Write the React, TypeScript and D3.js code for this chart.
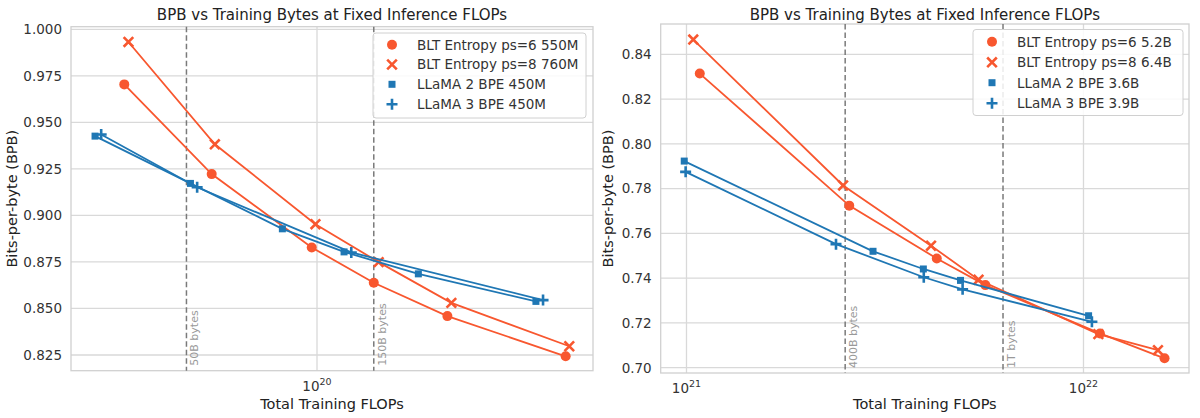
import { useEffect, useRef } from 'react'
import * as d3 from 'd3'

// ---- left panel (smaller models) ----
const leftBlt6Flops = [3.27e19, 5.43e19, 9.7e19, 1.39e20, 2.13e20, 4.23e20]
const leftBlt6Bpb = [0.9704, 0.9222, 0.8828, 0.8638, 0.8459, 0.8243]
const leftBlt8Flops = [3.35e19, 5.53e19, 9.91e19, 1.43e20, 2.18e20, 4.32e20]
const leftBlt8Bpb = [0.9932, 0.9382, 0.8953, 0.8749, 0.853, 0.8297]
const leftLlama2Flops = [2.76e19, 4.8e19, 8.18e19, 1.17e20, 1.8e20, 3.56e20]
const leftLlama2Bpb = [0.9426, 0.9172, 0.8928, 0.8804, 0.8686, 0.8538]
const leftLlama3Flops = [2.86e19, 4.99e19, 1.22e20, 3.71e20]
const leftLlama3Bpb = [0.9435, 0.9151, 0.8801, 0.8545]
const leftYTicks = [0.825, 0.85, 0.875, 0.9, 0.925, 0.95, 0.975, 1.0]
const leftXTicks = [1e20]
const leftBytesFlops = [4.69e19, 1.39e20]
const leftBytesLabels = ['50B bytes', '150B bytes']
const leftLegend = ['BLT Entropy ps=6 550M', 'BLT Entropy ps=8 760M', 'LLaMA 2 BPE 450M', 'LLaMA 3 BPE 450M']

// ---- right panel (larger models) ----
const rightBlt6Flops = [1.08e21, 2.57e21, 4.27e21, 5.66e21, 1.1e22, 1.6e22]
const rightBlt6Bpb = [0.8314, 0.7724, 0.7488, 0.7369, 0.7153, 0.7042]
const rightBlt8Flops = [1.04e21, 2.48e21, 4.13e21, 5.44e21, 1.09e22, 1.54e22]
const rightBlt8Bpb = [0.8466, 0.7814, 0.7545, 0.7393, 0.715, 0.7078]
const rightLlama2Flops = [9.87e20, 2.95e21, 3.95e21, 4.9e21, 1.03e22]
const rightLlama2Bpb = [0.7923, 0.752, 0.7441, 0.739, 0.7232]
const rightLlama3Flops = [9.95e20, 2.38e21, 3.96e21, 4.96e21, 1.05e22]
const rightLlama3Bpb = [0.7875, 0.7552, 0.7404, 0.735, 0.7205]
const rightYTicks = [0.7, 0.72, 0.74, 0.76, 0.78, 0.8, 0.82, 0.84]
const rightXTicks = [1e21, 1e22]
const rightBytesFlops = [2.51e21, 6.27e21]
const rightBytesLabels = ['400B bytes', '1T bytes']
const rightLegend = ['BLT Entropy ps=6 5.2B', 'BLT Entropy ps=8 6.4B', 'LLaMA 2 BPE 3.6B', 'LLaMA 3 BPE 3.9B']

const ORANGE = '#f8572f'
const BLUE = '#1f77b4'
const FONT = 'DejaVu Sans, sans-serif'
const markers = ['circle', 'x', 'square', 'plus']
const colors = [ORANGE, ORANGE, BLUE, BLUE]

interface PanelCfg {
  frame: { x0: number; x1: number; y0: number; y1: number }
  xRef: [number, number] // decade value at px
  yMap: [number, number, number, number] // v0, px0, v1, px1
  series: Array<{ x: number[]; y: number[] }>
  yTicks: number[]
  yFmt: (v: number) => string
  xTicks: number[]
  bytes: number[]
  bytesLabels: string[]
  legend: string[]
  legendBox: { x: number; y: number; w: number; h: number }
  legendRows: number[]
  yLabelX: number
}

function drawMarker(g: any, type: string, x: number, y: number, color: string) {
  if (type === 'circle') {
    g.append('circle').attr('cx', x).attr('cy', y).attr('r', 5).attr('fill', color)
  } else if (type === 'square') {
    g.append('rect').attr('x', x - 3.5).attr('y', y - 3.5).attr('width', 7).attr('height', 7).attr('fill', color)
  } else if (type === 'x') {
    const s = 4.8
    g.append('path')
      .attr('d', `M${x - s},${y - s}L${x + s},${y + s}M${x - s},${y + s}L${x + s},${y - s}`)
      .attr('stroke', color).attr('stroke-width', 2.6).attr('fill', 'none')
  } else {
    const s = 5.5
    g.append('path')
      .attr('d', `M${x - s},${y}L${x + s},${y}M${x},${y - s}L${x},${y + s}`)
      .attr('stroke', color).attr('stroke-width', 2.6).attr('fill', 'none')
  }
}

function drawPanel(svg: any, cfg: PanelCfg) {
  const { frame } = cfg
  const decade = 397
  const x = d3.scaleLog()
    .domain([cfg.xRef[0] / 10, cfg.xRef[0]])
    .range([cfg.xRef[1] - decade, cfg.xRef[1]])
  const y = d3.scaleLinear()
    .domain([cfg.yMap[0], cfg.yMap[2]])
    .range([cfg.yMap[1], cfg.yMap[3]])

  const g = svg.append('g')

  // grid
  cfg.yTicks.forEach(t => {
    g.append('line')
      .attr('x1', frame.x0).attr('x2', frame.x1)
      .attr('y1', y(t)).attr('y2', y(t))
      .attr('stroke', '#d9d9d9').attr('stroke-width', 1.3)
    g.append('text')
      .attr('x', frame.x0 - 9).attr('y', y(t) + 4.8)
      .attr('text-anchor', 'end')
      .style('font-family', FONT).style('font-size', '13.5px').style('fill', '#333')
      .text(cfg.yFmt(t))
  })
  cfg.xTicks.forEach(t => {
    g.append('line')
      .attr('x1', x(t)).attr('x2', x(t))
      .attr('y1', frame.y0).attr('y2', frame.y1)
      .attr('stroke', '#d9d9d9').attr('stroke-width', 1.3)
    const exp = Math.round(Math.log10(t))
    const txt = g.append('text')
      .attr('x', x(t)).attr('y', frame.y1 + 20)
      .attr('text-anchor', 'middle')
      .style('font-family', FONT).style('font-size', '13.5px').style('fill', '#333')
    txt.append('tspan').text('10')
    txt.append('tspan').attr('dy', -6).style('font-size', '9.5px').text(String(exp))
  })

  // frame
  g.append('rect')
    .attr('x', frame.x0).attr('y', frame.y0)
    .attr('width', frame.x1 - frame.x0).attr('height', frame.y1 - frame.y0)
    .attr('fill', 'none').attr('stroke', '#d0d0d0').attr('stroke-width', 1.3)

  // training bytes markers
  cfg.bytes.forEach((b, i) => {
    g.append('line')
      .attr('x1', x(b)).attr('x2', x(b))
      .attr('y1', frame.y0).attr('y2', frame.y1)
      .attr('stroke', '#7a7a7a').attr('stroke-width', 1.5)
      .attr('stroke-dasharray', '5.5,3')
    g.append('text')
      .attr('transform', `translate(${x(b) + 12},${frame.y1 - 5}) rotate(-90)`)
      .style('font-family', FONT).style('font-size', '11px').style('fill', '#999')
      .text(cfg.bytesLabels[i])
  })

  // series
  const line = d3.line<[number, number]>().x(d => x(d[0])).y(d => y(d[1]))
  cfg.series.forEach((s, si) => {
    const pts = s.x.map((v, i) => [v, s.y[i]] as [number, number])
    g.append('path')
      .attr('d', line(pts))
      .attr('fill', 'none').attr('stroke', colors[si]).attr('stroke-width', 1.8)
    pts.forEach(p => drawMarker(g, markers[si], x(p[0]), y(p[1]), colors[si]))
  })

  // legend
  const lb = cfg.legendBox
  g.append('rect')
    .attr('x', lb.x).attr('y', lb.y).attr('width', lb.w).attr('height', lb.h)
    .attr('rx', 3).attr('fill', 'white').attr('fill-opacity', 0.85)
    .attr('stroke', '#d0d0d0').attr('stroke-width', 1)
  cfg.legend.forEach((label, i) => {
    const ry = cfg.legendRows[i]
    drawMarker(g, markers[i], lb.x + 19, ry, colors[i])
    g.append('text')
      .attr('x', lb.x + 44).attr('y', ry + 4.8)
      .style('font-family', FONT).style('font-size', '13.5px').style('fill', '#333')
      .text(label)
  })

  // titles
  const cx = (frame.x0 + frame.x1) / 2
  g.append('text')
    .attr('x', cx).attr('y', 19.5).attr('text-anchor', 'middle')
    .style('font-family', FONT).style('font-size', '15px').style('fill', '#222')
    .text('BPB vs Training Bytes at Fixed Inference FLOPs')
  g.append('text')
    .attr('x', cx).attr('y', 409).attr('text-anchor', 'middle')
    .style('font-family', FONT).style('font-size', '14.5px').style('fill', '#222')
    .text('Total Training FLOPs')
  const cy = (frame.y0 + frame.y1) / 2
  g.append('text')
    .attr('transform', `translate(${cfg.yLabelX},${cy}) rotate(-90)`)
    .attr('text-anchor', 'middle')
    .style('font-family', FONT).style('font-size', '14.5px').style('fill', '#222')
    .text('Bits-per-byte (BPB)')
}

export default function App() {
  const svgRef = useRef<SVGSVGElement>(null)

  useEffect(() => {
    if (!svgRef.current) return
    const svg = d3.select(svgRef.current)
    svg.selectAll('*').remove()

    svg.append('rect').attr('width', 1200).attr('height', 418).attr('fill', 'white')

    drawPanel(svg, {
      frame: { x0: 71, x1: 593, y0: 26.7, y1: 370.7 },
      xRef: [1e20, 317],
      yMap: [0.825, 355, 1.0, 29.3],
      series: [
        { x: leftBlt6Flops, y: leftBlt6Bpb },
        { x: leftBlt8Flops, y: leftBlt8Bpb },
        { x: leftLlama2Flops, y: leftLlama2Bpb },
        { x: leftLlama3Flops, y: leftLlama3Bpb }
      ],
      yTicks: leftYTicks,
      yFmt: d3.format('.3f'),
      xTicks: leftXTicks,
      bytes: leftBytesFlops,
      bytesLabels: leftBytesLabels,
      legend: leftLegend,
      legendBox: { x: 373, y: 33, w: 213, h: 85 },
      legendRows: [44.7, 64.5, 84.3, 104.3],
      yLabelX: 17
    })

    drawPanel(svg, {
      frame: { x0: 660.7, x1: 1189, y0: 24, y1: 373 },
      xRef: [1e21, 686.5],
      yMap: [0.7, 367.7, 0.84, 54.3],
      series: [
        { x: rightBlt6Flops, y: rightBlt6Bpb },
        { x: rightBlt8Flops, y: rightBlt8Bpb },
        { x: rightLlama2Flops, y: rightLlama2Bpb },
        { x: rightLlama3Flops, y: rightLlama3Bpb }
      ],
      yTicks: rightYTicks,
      yFmt: d3.format('.2f'),
      xTicks: rightXTicks,
      bytes: rightBytesFlops,
      bytesLabels: rightBytesLabels,
      legend: rightLegend,
      legendBox: { x: 973, y: 29.5, w: 210, h: 86 },
      legendRows: [41.7, 62.3, 82.7, 103.3],
      yLabelX: 612.5
    })
  }, [])

  return (
    <svg
      ref={svgRef}
      width={1200}
      height={418}
      style={{ position: 'absolute', left: 0, top: 0 }}
    />
  )
}
